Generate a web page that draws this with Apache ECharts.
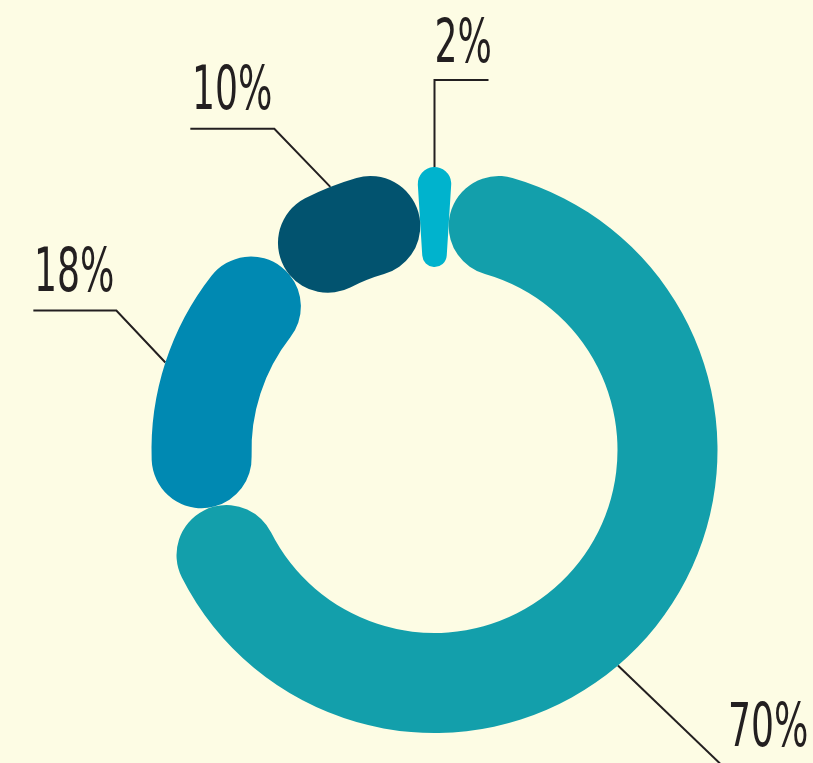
<!DOCTYPE html>
<html>
<head>
<meta charset="utf-8">
<script src="https://cdn.jsdelivr.net/npm/echarts@6/dist/echarts.min.js"></script>
<style>
  html, body { margin: 0; padding: 0; background: #fdfce4; }
  #chart { width: 813px; height: 763px; }
</style>
</head>
<body>
<div id="chart"></div>
<script>
// ---- data (clockwise from the top) ----
const categories = ['Segment A', 'Segment B', 'Segment C', 'Segment D'];
const shares = [2, 70, 18, 10];

// ---- styling ----
const segmentColors = ['#00b3cd', '#139fab', '#0089b2', '#02536f'];
// leader line geometry per slice: shift of anchor angle (deg), first segment vector,
// horizontal run, text offset from anchor point, text alignment
const leaders = [
  { shift: 0,  seg: [0, -87],    run: 54,  text: [0, -121],    align: 'left'  },
  { shift: 10, seg: [125, 120],  run: 0,   text: [110, 65],    align: 'left'  },
  { shift: 0,  seg: [-49, -52],  run: -83, text: [-51, -87],   align: 'right' },
  { shift: 0,  seg: [-56, -58],  run: -84, text: [-58, -93],   align: 'right' }
];
const textScaleX = 0.67;

const chart = echarts.init(document.getElementById('chart'), null, { renderer: 'canvas' });

const option = {
  backgroundColor: '#fdfce4',
  animation: false,
  series: [{
    type: 'pie',
    center: [434.5, 450],
    radius: [183, 283],
    startAngle: 90 + shares[0] * 3.6 / 2,
    clockwise: true,
    padAngle: 0,
    avoidLabelOverlap: false,
    itemStyle: { borderRadius: 50 },
    data: shares.map((v, i) => ({
      name: categories[i],
      value: v,
      itemStyle: { color: segmentColors[i] }
    })),
    label: {
      show: true,
      position: 'outside',
      formatter: '{c}%',
      fontFamily: '"Liberation Sans Narrow", "DejaVu Sans Condensed", "Liberation Sans", sans-serif',
      fontSize: 60,
      lineHeight: 60,
      color: '#231f20'
    },
    labelLine: {
      show: true,
      length: 20,
      length2: 20,
      lineStyle: { color: '#231f20', width: 2 }
    },
    labelLayout: function (p) {
      const data = chart.getModel().getSeriesByIndex(0).getData();
      const lay = data.getItemLayout(p.dataIndex);
      const g = leaders[p.dataIndex];
      const mid = (lay.startAngle + lay.endAngle) / 2 + g.shift * Math.PI / 180;
      const x0 = lay.cx + lay.r * Math.cos(mid);
      const y0 = lay.cy + lay.r * Math.sin(mid);
      const x1 = x0 + g.seg[0], y1 = y0 + g.seg[1];
      const x2 = x1 + g.run;
      return {
        x: x0 + g.text[0],
        y: y0 + g.text[1],
        align: g.align,
        verticalAlign: 'middle',
        labelLinePoints: [[x0, y0], [x1, y1], [x2, y1]]
      };
    }
  }]
};

chart.setOption(option);

// condense label glyphs horizontally around their anchor
(function condense() {
  const data = chart.getModel().getSeriesByIndex(0).getData();
  data.each(function (i) {
    const el = data.getItemGraphicEl(i);
    const t = el && el.getTextContent && el.getTextContent();
    if (t) { t.scaleX = textScaleX; t.markRedraw(); }
  });
  chart.getZr().refresh();
})();
</script>
</body>
</html>
